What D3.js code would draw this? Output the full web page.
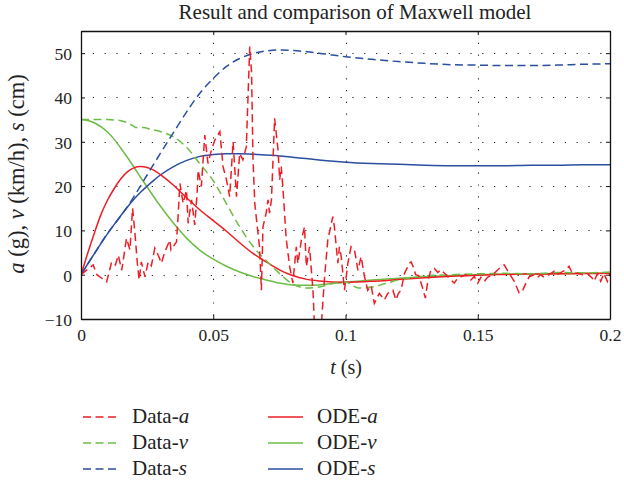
<!DOCTYPE html>
<html>
<head>
<meta charset="utf-8">
<script src="https://cdn.jsdelivr.net/npm/d3@7"></script>
<style>
  html, body { margin: 0; padding: 0; background: #fff; }
  svg { display: block; font-family: "Liberation Serif", "DejaVu Serif", serif; }
  svg text { font-family: "Liberation Serif", "DejaVu Serif", serif; }
</style>
</head>
<body>
<svg id="chart" width="624" height="481"></svg>
<script>
// Axis ticks
const xTicks = [0, 0.05, 0.1, 0.15, 0.2];
const xTickLabels = ["0", "0.05", "0.1", "0.15", "0.2"];
const yTicks = [-10, 0, 10, 20, 30, 40, 50];
const yTickLabels = ["\u221210", "0", "10", "20", "30", "40", "50"];

// Measured acceleration (g)
const dataA_t = [0,0.0046,0.006,0.0078,0.0097,0.0116,0.013,0.0141,0.0154,0.0172,0.0185,0.0195,0.0204,0.0213,0.022,0.0228,0.0242,0.0254,0.0266,0.0279,0.0292,0.0304,0.0317,0.0336,0.034,0.0361,0.0367,0.0374,0.0386,0.0399,0.0405,0.0418,0.043,0.0439,0.0443,0.0455,0.0468,0.048,0.0493,0.0506,0.0525,0.0537,0.055,0.0562,0.0575,0.0588,0.06,0.0612,0.0625,0.0638,0.0645,0.065,0.0657,0.0665,0.0675,0.0682,0.0688,0.07,0.0707,0.0713,0.072,0.0732,0.0745,0.0751,0.0757,0.0763,0.0776,0.0789,0.0801,0.0814,0.082,0.0833,0.0845,0.0852,0.0864,0.0877,0.0883,0.0908,0.092,0.0933,0.0952,0.0958,0.0971,0.0977,0.0984,0.0996,0.1009,0.1021,0.1034,0.1047,0.1059,0.1072,0.1084,0.1097,0.1109,0.1128,0.1147,0.116,0.1179,0.1191,0.12,0.121,0.1223,0.1242,0.1248,0.1259,0.1265,0.1277,0.129,0.1302,0.131,0.1323,0.1336,0.1349,0.1361,0.138,0.1392,0.1411,0.1424,0.1436,0.1455,0.1474,0.1487,0.15,0.1512,0.1525,0.1537,0.1556,0.1581,0.16,0.1612,0.1638,0.1657,0.167,0.1682,0.1694,0.1713,0.1726,0.1738,0.1751,0.177,0.1789,0.1801,0.182,0.1833,0.1845,0.1858,0.1877,0.1896,0.1914,0.1933,0.194,0.1952,0.1965,0.1977,0.199,0.2];
const dataA_v = [0,2.2,0,-0.8,-1.6,2.9,2.2,4.4,1,8.2,5.6,15,9.3,2.6,-1.2,2.9,-0.5,2.9,2,6,4.4,2.6,5.2,7.8,5.6,7.4,13.1,20.6,16.1,19.1,11.6,16.9,11.2,18.4,23.6,19.9,31.5,25.1,28.1,30.4,32.3,24.4,21.4,17.6,30,17.6,27.4,25.9,28.9,51.5,45.5,26.6,16.1,11.6,6.3,-3.5,10.8,13.9,16.9,13.9,16.9,35.3,28.1,21.4,24.4,19.9,8,1.8,-1.9,6.3,2.5,7.8,10.8,1.8,6.3,-3.5,-12,-12,-1.2,7.8,13.1,10.8,2.6,6.3,4,-3.5,2.6,6.3,5.6,1,4.1,-0.5,-3.5,-2.5,-6.5,-4.2,-5.7,-4.2,-3.5,-5.7,-4.2,-3.5,0.3,2.6,2.9,1.4,0,-0.2,-2.7,-5.3,-1.9,1.1,1.4,0.5,1.1,0,-0.8,-1.9,-0.8,-0.5,0,-1.2,-0.4,-1.9,-0.6,-1.5,-0.6,0,1.4,2.2,1,-1.5,-4.2,-3.5,-1.9,-0.5,0,-0.6,0,-0.6,0,0.8,0,0.7,1.1,1.9,0.3,0.3,0,0.3,-0.8,-1.5,0.2,-1.5,0.3,-1.5,0.3];

// Measured velocity (km/h)
const dataV_t = [0,0.005,0.01,0.013,0.0147,0.0175,0.0197,0.021,0.0235,0.0265,0.03,0.035,0.04,0.045,0.05,0.055,0.06,0.065,0.07,0.075,0.08,0.085,0.09,0.095,0.1,0.105,0.11,0.115,0.12,0.125,0.13,0.14,0.15,0.16,0.17,0.18,0.19,0.2];
const dataV_v = [35,35,35,34.9,34.8,34.3,33.6,33.2,33.2,32.8,32.3,31.1,28.7,25,21.2,16,10.8,6.4,3.2,0.3,-2.1,-3,-2.8,-2,-1.7,-3,-2.8,-2,-1.2,-0.7,-0.3,0,0.2,0.3,0.2,0.5,0.4,0.6];

// Measured displacement (cm)
const dataS_t = [0,0.005,0.01,0.015,0.02,0.025,0.03,0.035,0.04,0.045,0.05,0.055,0.06,0.065,0.07,0.075,0.08,0.09,0.1,0.11,0.12,0.13,0.14,0.15,0.16,0.17,0.18,0.19,0.2];
const dataS_v = [0,4.7,9.3,13.2,17.6,22.5,27.4,32.1,36.8,41,44.3,47,48.8,49.9,50.5,50.7,50.6,50,49.2,48.6,48.1,47.7,47.4,47.3,47.2,47.2,47.3,47.5,47.6];

// Maxwell model (ODE) solution
const odeT = [0,0.0025,0.005,0.0075,0.01,0.0125,0.015,0.0175,0.02,0.0225,0.025,0.0275,0.03,0.035,0.04,0.045,0.05,0.055,0.06,0.065,0.07,0.075,0.08,0.085,0.09,0.1,0.11,0.12,0.13,0.14,0.15,0.16,0.17,0.18,0.19,0.2];
const odeA = [0,4.8,9.3,13.5,16.8,19.4,21.6,23.2,24.1,24.4,24.2,23.6,22.6,20.2,17.3,14.6,12.2,9.8,7.2,4.8,2.9,1.1,-0.2,-1,-1.4,-1.7,-1.5,-1.1,-0.7,-0.35,-0.1,0.05,0.15,0.2,0.25,0.3];
const odeV = [35,34.8,34.3,33.4,32.2,30.6,28.6,26.5,24.3,22,19.8,17.6,15.5,11.6,8.2,5.5,3.5,1.9,0.6,-0.4,-1.2,-1.9,-2.3,-2.4,-2.3,-1.7,-1.2,-0.8,-0.45,-0.2,0,0.1,0.15,0.2,0.3,0.35];
const odeS = [0,2.4,4.7,7,9.2,11.3,13.3,15.2,17,18.6,20,21.3,22.5,24.4,25.8,26.7,27.1,27.3,27.3,27.2,27,26.8,26.5,26.2,25.9,25.4,25.1,24.9,24.7,24.6,24.6,24.6,24.7,24.7,24.8,24.8];

const red = "#ee1d25", green = "#6cbd45", blue = "#2a4ea0";
const serif = '"Liberation Serif", "DejaVu Serif", serif';

const series = [
  { name: "Data-", sym: "a", t: dataA_t, v: dataA_v, color: red,   dash: true },
  { name: "Data-", sym: "v", t: dataV_t, v: dataV_v, color: green, dash: true },
  { name: "Data-", sym: "s", t: dataS_t, v: dataS_v, color: blue,  dash: true },
  { name: "ODE-",  sym: "a", t: odeT,    v: odeA,    color: red,   dash: false },
  { name: "ODE-",  sym: "v", t: odeT,    v: odeV,    color: green, dash: false },
  { name: "ODE-",  sym: "s", t: odeT,    v: odeS,    color: blue,  dash: false }
];

const svg = d3.select("#chart");
const x = d3.scaleLinear().domain([0, 0.2]).range([81, 610]);
const y = d3.scaleLinear().domain([-10, 55]).range([319, 31]);

// dotted grid
const grid = svg.append("g").attr("stroke", "#222").attr("stroke-width", 1.1)
  .attr("stroke-dasharray", "1.2 10.6");
grid.selectAll("line.h").data(yTicks.filter(d => d > -10)).join("line")
  .attr("class", "h")
  .attr("x1", x(0)).attr("x2", x(0.2))
  .attr("y1", d => Math.round(y(d)) + 0.5).attr("y2", d => Math.round(y(d)) + 0.5);
grid.selectAll("line.v").data(xTicks.filter(d => d > 0 && d < 0.2)).join("line")
  .attr("class", "v")
  .attr("x1", d => Math.round(x(d)) + 0.5).attr("x2", d => Math.round(x(d)) + 0.5)
  .attr("y1", y(55)).attr("y2", y(-10));

// clip for the plotted curves
svg.append("clipPath").attr("id", "plotClip").append("rect")
  .attr("x", x(0)).attr("y", y(55)).attr("width", x(0.2) - x(0)).attr("height", y(-10) - y(55));

const plot = svg.append("g").attr("clip-path", "url(#plotClip)");
const smooth = d3.line().x(d => x(d[0])).y(d => y(d[1])).curve(d3.curveMonotoneX);
const straight = d3.line().x(d => x(d[0])).y(d => y(d[1]));

// solid ODE lines first, dashed data on top
const order = [4, 5, 3, 1, 2, 0];
order.forEach(i => {
  const s = series[i];
  const pts = s.t.map((t, k) => [t, s.v[k]]);
  plot.append("path")
    .attr("d", (s.sym === "a" && s.dash ? straight : smooth)(pts))
    .attr("fill", "none")
    .attr("stroke", s.color)
    .attr("stroke-width", 1.5)
    .attr("stroke-dasharray", s.dash ? "8 4.5" : null);
});

// axes box with inward ticks
const xb = svg.append("g").attr("transform", `translate(0,${y(-10)})`)
  .call(d3.axisBottom(x).tickValues(xTicks).tickFormat((d, i) => xTickLabels[i]).tickSizeInner(-4).tickSizeOuter(0).tickPadding(10));
const xt = svg.append("g").attr("transform", `translate(0,${y(55)})`)
  .call(d3.axisTop(x).tickValues(xTicks).tickFormat("").tickSizeInner(-4).tickSizeOuter(0));
const yl = svg.append("g").attr("transform", `translate(${x(0)},0)`)
  .call(d3.axisLeft(y).tickValues(yTicks).tickFormat((d, i) => yTickLabels[i]).tickSizeInner(-4).tickSizeOuter(0).tickPadding(9));
const yr = svg.append("g").attr("transform", `translate(${x(0.2)},0)`)
  .call(d3.axisRight(y).tickValues(yTicks).tickFormat("").tickSizeInner(-4).tickSizeOuter(0));
[xb, xt, yl, yr].forEach(g => {
  g.attr("font-family", serif).attr("font-size", 17);
  g.selectAll("path.domain").attr("stroke", "#111").attr("stroke-width", 1.3);
  g.selectAll(".tick line").attr("stroke", "#111");
  g.selectAll("text").style("font-family", serif).style("font-size", "17.5px").attr("fill", "#222");
});
yl.selectAll("text").attr("dy", "0.36em");

// title
svg.append("text").attr("x", 355).attr("y", 19).attr("text-anchor", "middle")
  .style("font-size", "21px").attr("fill", "#222").text("Result and comparison of Maxwell model");

// x-axis label
const xl = svg.append("text").attr("x", 346).attr("y", 374).attr("text-anchor", "middle")
  .style("font-size", "20px").attr("fill", "#222");
xl.append("tspan").attr("font-style", "italic").text("t");
xl.append("tspan").text(" (s)");

// y-axis label
const ylab = svg.append("text").attr("transform", "translate(24,174) rotate(-90)")
  .attr("text-anchor", "middle").style("font-size", "22.5px").attr("fill", "#222");
ylab.append("tspan").attr("font-style", "italic").text("a");
ylab.append("tspan").text(" (g), ");
ylab.append("tspan").attr("font-style", "italic").text("v");
ylab.append("tspan").text(" (km/h), ");
ylab.append("tspan").attr("font-style", "italic").text("s");
ylab.append("tspan").text(" (cm)");

// legend: two columns of three rows
const legend = svg.append("g");
series.forEach((s, i) => {
  const col = Math.floor(i / 3), row = i % 3;
  const lx = col === 0 ? 83 : 268;
  const ly = 417 + row * 26;
  legend.append("line")
    .attr("x1", lx).attr("x2", lx + 35).attr("y1", ly).attr("y2", ly)
    .attr("stroke", s.color).attr("stroke-width", 1.5)
    .attr("stroke-dasharray", s.dash ? "8 4.5" : null);
  const t = legend.append("text").attr("x", lx + 49).attr("y", ly + 6)
    .style("font-size", "21px").attr("fill", "#222");
  t.append("tspan").text(s.name);
  t.append("tspan").attr("font-style", "italic").text(s.sym);
});
</script>
</body>
</html>
